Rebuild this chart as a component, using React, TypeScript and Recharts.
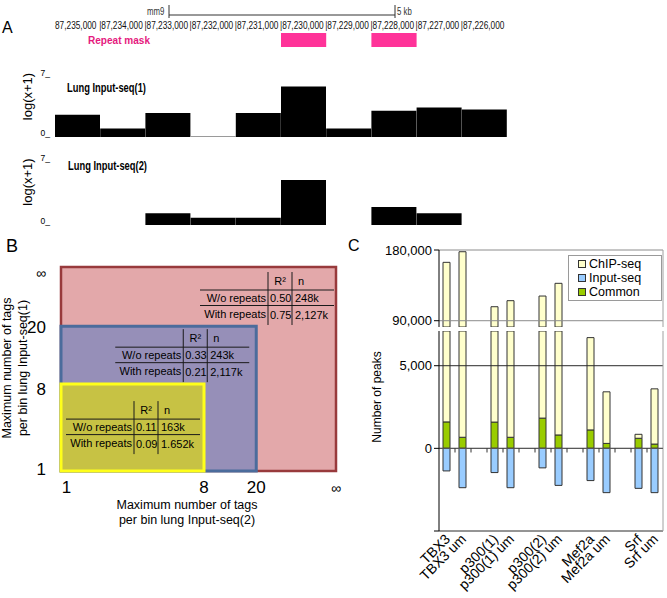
import React from "react";
import {
  BarChart,
  Bar,
  ComposedChart,
  XAxis,
  YAxis,
  ReferenceArea,
  ReferenceLine,
  Legend,
  Cell,
} from "recharts";

const FONT = '"Liberation Sans", Arial, Helvetica, sans-serif';

// ---------- Panel A: 1 kb bins on chr (mm9), log(x+1) tag counts ----------
const genomeTicks = [
  87235000, 87234000, 87233000, 87232000, 87231000,
  87230000, 87229000, 87228000, 87227000, 87226000,
];
const inputSeq1 = [2.6, 1.0, 2.8, 0, 2.8, 5.9, 1.0, 3.05, 3.45, 3.2];
const inputSeq2 = [null, null, 1.3, 0.8, 0.8, 5.0, null, 2.0, 1.3, null];
const repeatFrom = [87230000, 87228000];
const repeatTo = [87229000, 87227000];

// ---------- Panel B: nested tag-count bins (schematic axis units) ----------
const bTickLabels = ["1", "8", "20", "∞"];
const bXTickPos = [2, 52, 71, 100];
const bYTickPos = [1, 40, 70.5, 97.5];
const bRectX = [100, 71, 52];
const bRectY = [100, 71, 42.6];
const bR2NoRepeats = ["0.50", "0.33", "0.11"];
const bR2Repeats = ["0.75", "0.21", "0.09"];
const bNNoRepeats = ["248k", "243k", "163k"];
const bNRepeats = ["2,127k", "2,117k", "1.652k"];
const bRowLabels = ["W/o repeats", "With repeats"];

// ---------- Panel C: number of peaks ----------
const cCategories = [
  "TBX3", "TBX3 um", "", "p300(1)", "p300(1) um", "", "p300(2)", "p300(2) um", "",
  "Mef2a", "Mef2a um", "", "Srf", "Srf um",
];
const chipPeaks = [164300, 177800, null, 107800, 115500, null, 121400, 137600, null, 6700, 3420, null, 850, 3600];
const inputPeaks = [1365, 2380, null, 1465, 2380, null, 1180, 2240, null, 1950, 2680, null, 2420, 2680];
const commonPeaks = [1600, 670, null, 1590, 670, null, 1830, 810, null, 1115, 300, null, 610, 260];
const upperTicks = [90000, 180000];
const lowerTicks = [-5000, 0, 5000];
const legendOrder = ["ChIP-seq", "Input-seq", "Common"];

const cData = cCategories.map((name, i) => ({
  slot: i + 0.5,
  name,
  common: commonPeaks[i],
  chip: chipPeaks[i] == null ? null : (chipPeaks[i] as number) - (commonPeaks[i] as number),
  input: inputPeaks[i] == null ? null : -(inputPeaks[i] as number),
}));
const cSlots = cData.map((d) => d.slot);
const cBoundaries = cCategories.slice(1).map((_, i) => i + 1);

const trackRows = (vals: (number | null)[]) =>
  genomeTicks.map((start, i) => ({ start, v: vals[i] }));

const RulerTick = (props: any) => {
  const { x, payload, index } = props;
  const label = Number(payload.value).toLocaleString("en-US");
  return (
    <text
      transform={`translate(${index === 0 ? x : x - 1},29) scale(0.79,1)`}
      fontSize={10.5}
      fontFamily={FONT}
      fill="#111"
    >
      {index === 0 ? label : "|" + label}
    </text>
  );
};

const TrackTick = (props: any) => {
  const { x, y, payload } = props;
  return (
    <text x={x + 5} y={y - 1} textAnchor="end" fontSize={8.5} fontFamily={FONT} fill="#000">
      {payload.value}_
    </text>
  );
};

function Track({ values, height, top, zeroLine }: { values: (number | null)[]; height: number; top: number; zeroLine?: boolean }) {
  const rows = trackRows(values);
  return (
    <BarChart
      width={667}
      height={height}
      data={rows}
      margin={{ top, bottom: 3, left: 40, right: 160 }}
      barCategoryGap={0}
    >
      <XAxis dataKey="start" hide />
      <YAxis
        domain={[0, 7]}
        ticks={[0, 7]}
        interval={0}
        width={15}
        axisLine={false}
        tickLine={false}
        tickMargin={4}
        tick={<TrackTick />}
      />
      <Bar dataKey="v" fill="#000" isAnimationActive={false} minPointSize={zeroLine ? 1 : 0}>
        {rows.map((r, i) => (
          <Cell key={`c-${i}`} fill={r.v === 0 ? "#9a9a9a" : "#000"} />
        ))}
      </Bar>
    </BarChart>
  );
}

const BXTick = (props: any) => {
  const { x, y, payload } = props;
  const lbl = bTickLabels[bXTickPos.indexOf(payload.value)];
  return (
    <text x={x} y={y + 14} textAnchor="middle" fontSize={lbl === "∞" ? 14 : 17} fontFamily={FONT} fill="#000">
      {lbl}
    </text>
  );
};

const BYTick = (props: any) => {
  const { x, y, payload } = props;
  const lbl = bTickLabels[bYTickPos.indexOf(payload.value)];
  return (
    <text x={x} y={y} dy={6} textAnchor="end" fontSize={lbl === "∞" ? 14 : 17} fontFamily={FONT} fill="#000">
      {lbl}
    </text>
  );
};

function renderTable(p: any, i: number, dx: number, dy: number) {
  const vb = p.viewBox || {};
  const ox = vb.x + vb.width + dx;
  const oy = vb.y + dy;
  const ln = "#1a1a1a";
  return (
    <g fontFamily={FONT} fontSize={11} fill="#000">
      <line x1={ox - 68} x2={ox + 66} y1={oy} y2={oy} stroke={ln} />
      <line x1={ox - 68} x2={ox + 66} y1={oy + 15.5} y2={oy + 15.5} stroke={ln} />
      <line x1={ox} x2={ox} y1={oy - 18} y2={oy + 35} stroke={ln} />
      <line x1={ox + 24} x2={ox + 24} y1={oy - 18} y2={oy + 35} stroke={ln} />
      <text x={ox + 12} y={oy - 5} textAnchor="middle">R²</text>
      <text x={ox + 30} y={oy - 5}>n</text>
      <text x={ox - 2} y={oy + 12} textAnchor="end">{bRowLabels[0]}</text>
      <text x={ox + 2} y={oy + 12}>{bR2NoRepeats[i]}</text>
      <text x={ox + 27} y={oy + 12}>{bNNoRepeats[i]}</text>
      <text x={ox - 2} y={oy + 28} textAnchor="end">{bRowLabels[1]}</text>
      <text x={ox + 2} y={oy + 29}>{bR2Repeats[i]}</text>
      <text x={ox + 27} y={oy + 29}>{bNRepeats[i]}</text>
    </g>
  );
}

const bStyles = [
  { fill: "#e3a8aa", stroke: "#983a3c", w: 2.5, dx: -68, dy: 23 },
  { fill: "#968fb8", stroke: "#4b6c9c", w: 3, dx: -73, dy: 21 },
  { fill: "#c7c244", stroke: "#ffff1a", w: 3, dx: -70, dy: 35 },
];

const CatTick = (props: any) => {
  const { x, y, payload } = props;
  const name = cCategories[Math.floor(payload.value)];
  if (!name) return <g />;
  return (
    <text
      transform={`translate(${x + 4},${y + 7}) rotate(-45)`}
      textAnchor="end"
      fontSize={14}
      fontFamily={FONT}
      fill="#000"
    >
      {name}
    </text>
  );
};

const renderLegend = (props: any) => {
  const payload = props.payload || [];
  const items = legendOrder
    .map((n) => payload.find((p: any) => p.value === n))
    .filter(Boolean);
  return (
    <div
      style={{
        border: "1px solid #9a9a9a",
        background: "#fff",
        padding: "1px 4px 1px 9px",
        fontFamily: FONT,
        fontSize: 12.5,
        lineHeight: "14px",
        boxSizing: "border-box",
        color: "#000",
      }}
    >
      {items.map((it: any) => (
        <div key={it.value} style={{ display: "flex", alignItems: "center" }}>
          <span
            style={{
              display: "inline-block",
              width: 6,
              height: 6,
              border: "1px solid #333",
              background: it.color,
              marginRight: 3,
            }}
          />
          {it.value}
        </div>
      ))}
    </div>
  );
};

const yFmt = (v: number) => (v === -5000 ? "" : v.toLocaleString("en-US"));

function PeakBars() {
  return [
    <Bar key="common" dataKey="common" name="Common" stackId="a" fill="#99cc00" stroke="#333" strokeWidth={1} barSize={7} isAnimationActive={false} />,
    <Bar key="chip" dataKey="chip" name="ChIP-seq" stackId="a" fill="#ffffcc" stroke="#333" strokeWidth={1} barSize={7} isAnimationActive={false} />,
    <Bar key="input" dataKey="input" name="Input-seq" stackId="a" fill="#99ccff" stroke="#333" strokeWidth={1} barSize={7} isAnimationActive={false} />,
  ];
}

export default function App() {
  return (
    <div style={{ position: "relative", width: 667, height: 598, background: "#fff", overflow: "hidden", fontFamily: FONT }}>
      <style>{"body{margin:0}"}</style>

      {/* Panel A: coordinates + repeat mask */}
      <div style={{ position: "absolute", left: 0, top: 0 }}>
        <ComposedChart
          width={667}
          height={60}
          data={repeatFrom.map((f) => ({ x: f, y: 0.5 }))}
          margin={{ top: 29, bottom: 13, left: 55, right: 160 }}
        >
          <XAxis
            type="number"
            dataKey="x"
            domain={[87225000, 87235000]}
            allowDataOverflow
            reversed
            orientation="top"
            height={4}
            ticks={genomeTicks}
            interval={0}
            axisLine={false}
            tickLine={false}
            tick={<RulerTick />}
          />
          <YAxis type="number" dataKey="y" domain={[0, 1]} hide />
          {repeatFrom.map((f, i) => (
            <ReferenceArea key={`rm-${i}`} x1={f} x2={repeatTo[i]} y1={0} y2={1} fill="#ff3399" fillOpacity={1} stroke="none" ifOverflow="visible" />
          ))}
        </ComposedChart>
      </div>

      <div style={{ position: "absolute", left: 0, top: 60 }}>
        <Track values={inputSeq1} height={80} top={17} zeroLine />
      </div>
      <div style={{ position: "absolute", left: 0, top: 145 }}>
        <Track values={inputSeq2} height={83} top={17} />
      </div>

      {/* Panel B */}
      <div style={{ position: "absolute", left: 0, top: 230 }}>
        <ComposedChart width={345} height={290} data={bRectX.map((x, i) => ({ x, y: bRectY[i] }))} margin={{ top: 37, right: 9, bottom: 19, left: 31 }}>
          <XAxis type="number" dataKey="x" domain={[0, 100]} ticks={bXTickPos} interval={0} axisLine={false} tickLine={false} height={30} tick={<BXTick />} />
          <YAxis type="number" dataKey="y" domain={[0, 100]} ticks={bYTickPos} interval={0} axisLine={false} tickLine={false} width={30} tickMargin={9} tick={<BYTick />} />
          {bRectX.map((x, i) => (
            <ReferenceArea
              key={`b-${i}`}
              x1={0}
              x2={x}
              y1={0}
              y2={bRectY[i]}
              fill={bStyles[i].fill}
              fillOpacity={1}
              stroke={bStyles[i].stroke}
              strokeWidth={bStyles[i].w}
              ifOverflow="visible"
              label={(p: any) => renderTable(p, i, bStyles[i].dx, bStyles[i].dy)}
            />
          ))}
        </ComposedChart>
      </div>

      {/* Panel C: upper segment of broken axis */}
      <div style={{ position: "absolute", left: 340, top: 240 }}>
        <ComposedChart width={327} height={87} data={cData} stackOffset="sign" margin={{ top: 10, right: 4, bottom: 0, left: 39 }}>
          <XAxis type="number" dataKey="slot" domain={[0, 14]} ticks={cSlots} hide />
          <YAxis
            type="number"
            domain={[82000, 180000]}
            ticks={upperTicks}
            interval={0}
            allowDataOverflow
            width={60}
            tickSize={5}
            tickFormatter={yFmt}
            axisLine={{ stroke: "#000" }}
            tickLine={{ stroke: "#000" }}
            tick={{ fontSize: 13, fill: "#000", fontFamily: FONT }}
          />
          {upperTicks.map((t) => (
            <ReferenceLine key={`ug-${t}`} y={t} stroke="#8c8c8c" />
          ))}
          <ReferenceLine x={14} stroke="#a0a0a0" />
          {PeakBars()}
          <Legend
            layout="vertical"
            align="center"
            verticalAlign="middle"
            content={renderLegend}
            wrapperStyle={{ position: "absolute", left: 228, top: 15, width: 94 }}
          />
        </ComposedChart>
      </div>

      {/* Panel C: lower segment */}
      <div style={{ position: "absolute", left: 340, top: 331 }}>
        <ComposedChart width={327} height={267} data={cData} stackOffset="sign" margin={{ top: 0, right: 4, bottom: 7, left: 39 }}>
          <XAxis
            type="number"
            dataKey="slot"
            domain={[0, 14]}
            ticks={cSlots}
            interval={0}
            axisLine={false}
            tickLine={false}
            tickSize={0}
            height={60}
            tick={<CatTick />}
          />
          <YAxis
            type="number"
            domain={[-5000, 7100]}
            ticks={lowerTicks}
            interval={0}
            allowDataOverflow
            width={60}
            tickSize={5}
            tickFormatter={yFmt}
            axisLine={{ stroke: "#000" }}
            tickLine={{ stroke: "#000" }}
            tick={{ fontSize: 13, fill: "#000", fontFamily: FONT }}
          />
          {lowerTicks.map((t) => (
            <ReferenceLine key={`lg-${t}`} y={t} stroke={t === 0 ? "#555" : "#2a2a2a"} />
          ))}
          <ReferenceLine x={14} stroke="#a0a0a0" />
          {PeakBars()}
          <ReferenceLine y={0} stroke="#555" />
          {cBoundaries.map((b) => (
            <ReferenceLine key={`t-${b}`} segment={[{ x: b, y: 0 }, { x: b, y: -250 }]} stroke="#333" />
          ))}
        </ComposedChart>
      </div>

      {/* annotations */}
      <svg width={667} height={598} style={{ position: "absolute", left: 0, top: 0, pointerEvents: "none" }} fontFamily={FONT}>
        <text x={2} y={33} fontSize={16}>A</text>
        <text x={6} y={252} fontSize={18}>B</text>
        <text x={348} y={251} fontSize={16}>C</text>

        <text transform="translate(147,15) scale(0.78,1)" fontSize={10} fill="#333">mm9</text>
        <line x1={169} x2={395} y1={15} y2={15} stroke="#333" />
        <line x1={169} x2={169} y1={5} y2={18} stroke="#333" />
        <line x1={395} x2={395} y1={5} y2={18} stroke="#333" />
        <text transform="translate(397,15) scale(0.78,1)" fontSize={10} fill="#333">5 kb</text>

        <text transform="translate(88,44) scale(0.875,1)" fontSize={11.5} fontWeight="bold" fill="#e5197e">Repeat mask</text>
        <text transform="translate(67,92) scale(0.78,1)" fontSize={12} fontWeight="bold">Lung Input-seq(1)</text>
        <text transform="translate(68,170) scale(0.78,1)" fontSize={12} fontWeight="bold">Lung Input-seq(2)</text>
        <text transform="translate(27.5,96.5) rotate(-90)" fontSize={13} textAnchor="middle" dominantBaseline="central">log(x+1)</text>
        <text transform="translate(27.5,182) rotate(-90)" fontSize={13} textAnchor="middle" dominantBaseline="central">log(x+1)</text>

        <text x={187} y={509} fontSize={12.5} textAnchor="middle">Maximum number of tags</text>
        <text x={187} y={524} fontSize={12.5} textAnchor="middle">per bin lung Input-seq(2)</text>
        <text transform="translate(7,368) rotate(-90)" fontSize={12.5} textAnchor="middle" dominantBaseline="central">Maximum number of tags</text>
        <text transform="translate(23,368) rotate(-90)" fontSize={12.5} textAnchor="middle" dominantBaseline="central">per bin lung Input-seq(1)</text>

        <text transform="translate(377,397) rotate(-90)" fontSize={12} textAnchor="middle" dominantBaseline="central">Number of peaks</text>
      </svg>
    </div>
  );
}
